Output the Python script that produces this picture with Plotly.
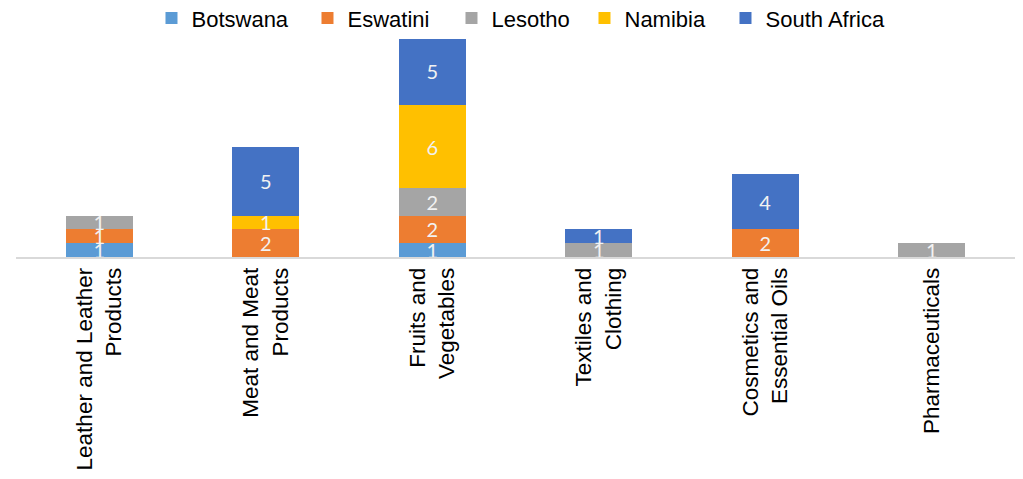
import plotly.graph_objects as go

categories = [
    "Leather and Leather<br>Products",
    "Meat and Meat<br>Products",
    "Fruits and<br>Vegetables",
    "Textiles and<br>Clothing",
    "Cosmetics and<br>Essential Oils",
    "Pharmaceuticals",
]

botswana = [1, None, 1, None, None, None]
eswatini = [1, 2, 2, None, 2, None]
lesotho = [1, None, 2, 1, None, 1]
namibia = [None, 1, 6, None, None, None]
south_africa = [None, 5, 5, 1, 4, None]

series = [
    ("Botswana", botswana, "#5B9BD5", 111),
    ("Eswatini", eswatini, "#ED7D31", 99),
    ("Lesotho", lesotho, "#A5A5A5", 88),
    ("Namibia", namibia, "#FFC000", 96),
    ("South Africa", south_africa, "#4472C4", 125),
]

fig = go.Figure()
for name, vals, color, lw in series:
    fig.add_trace(go.Bar(
        name=name,
        x=categories,
        y=vals,
        marker=dict(color=color, line=dict(width=0)),
        text=[("" if v is None else str(v)) for v in vals],
        textposition="inside",
        insidetextanchor="middle",
        textangle=0,
        textfont=dict(color="#F2F2F2", size=20, family="Lato, Liberation Sans, sans-serif"),
        cliponaxis=False,
        legendwidth=lw,
    ))

# page body has an 8px margin, so the figure is sized to fit inside the window
fig.update_layout(
    barmode="stack",
    bargap=0.6,
    width=1007,
    height=463,
    margin=dict(l=8, r=0, t=28, b=214, autoexpand=False),
    paper_bgcolor="white",
    plot_bgcolor="white",
    uniformtext=dict(minsize=20, mode="show"),
    font=dict(family="Liberation Sans, Arial, sans-serif", color="#000000"),
    legend=dict(
        orientation="h",
        x=0.508, xanchor="center",
        yref="container",
        y=0.978, yanchor="middle",
        font=dict(size=22, color="#000000"),
        traceorder="normal",
        itemsizing="constant",
    ),
    showlegend=True,
)

fig.update_xaxes(
    showline=True,
    linecolor="#D9D9D9",
    linewidth=1.5,
    showgrid=False,
    ticks="",
    tickangle=-90,
    tickfont=dict(size=22.5, color="#000000"),
    ticklabelstandoff=0,
    automargin=False,
)
fig.update_yaxes(
    range=[0, 16],
    visible=False,
    showgrid=False,
    zeroline=False,
    automargin=False,
)

fig.write_html("out.html")
